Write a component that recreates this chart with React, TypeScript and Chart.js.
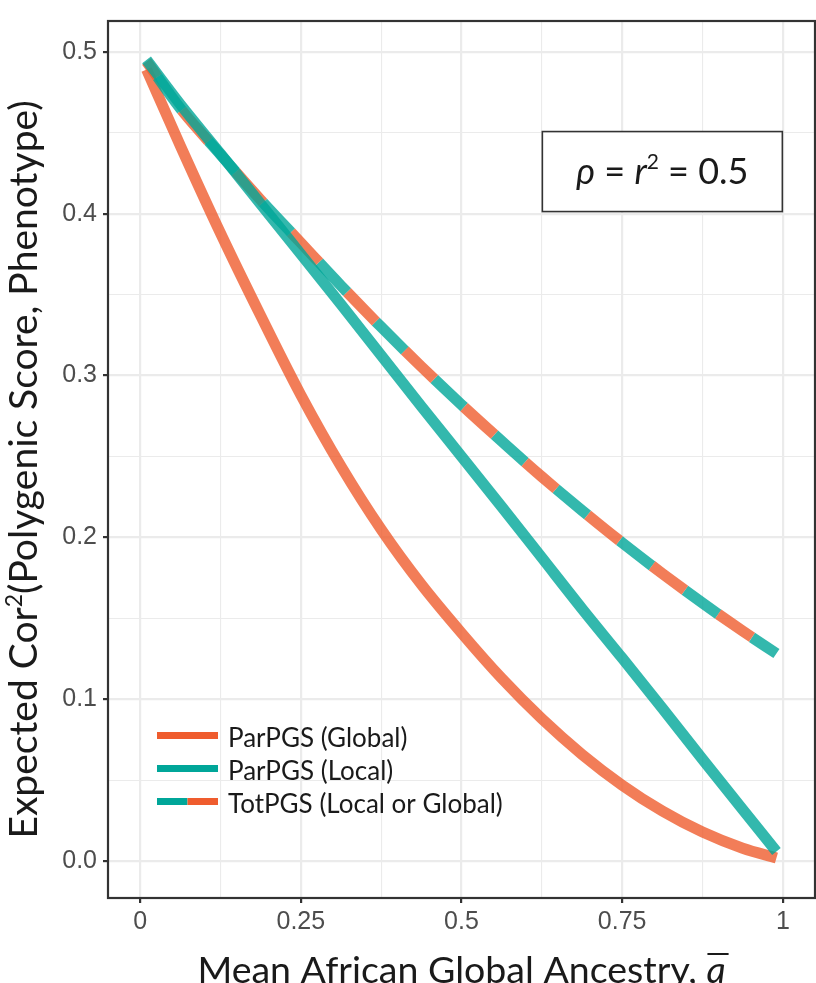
import React, { useEffect, useRef } from "react";
import { Chart, registerables } from "chart.js";

Chart.register(...registerables);

// ---------- data ----------
const ancestry = [0.01, 0.0625, 0.125, 0.1875, 0.25, 0.3125, 0.375, 0.4375, 0.5, 0.5625, 0.625, 0.6875, 0.75, 0.8125, 0.875, 0.9375, 0.99];
const parPgsGlobal = [0.489, 0.442, 0.388, 0.337, 0.288, 0.244, 0.205, 0.171, 0.141, 0.113, 0.088, 0.066, 0.047, 0.031, 0.018, 0.008, 0.002];
const parPgsLocal = [0.495, 0.4675, 0.437, 0.406, 0.375, 0.344, 0.3125, 0.281, 0.25, 0.219, 0.1875, 0.156, 0.1255, 0.0945, 0.063, 0.032, 0.006];
const totPgs = [0.494, 0.465, 0.4365, 0.4085, 0.382, 0.3555, 0.33, 0.3055, 0.282, 0.2595, 0.2375, 0.2167, 0.1967, 0.1777, 0.1595, 0.1422, 0.1283];

const xMajorTicks = [0, 0.25, 0.5, 0.75, 1];
const xMajorLabels = ["0", "0.25", "0.5", "0.75", "1"];
const xMinorTicks = [0.125, 0.375, 0.625, 0.875];
const yMajorTicks = [0, 0.1, 0.2, 0.3, 0.4, 0.5];
const yMajorLabels = ["0.0", "0.1", "0.2", "0.3", "0.4", "0.5"];
const yMinorTicks = [0.05, 0.15, 0.25, 0.35, 0.45];

const legendLabels = ["ParPGS (Global)", "ParPGS (Local)", "TotPGS (Local or Global)"];
const xTitle = "Mean African Global Ancestry, ";
const xTitleSymbol = "a";
const yTitleParts = ["Expected Cor", "2", "(Polygenic Score, Phenotype)"];
const annotationAt = { x: 0.8125, y: 0.426 };

// ---------- styles ----------
const ORANGE = "rgb(239,92,46)";
const ORANGE_A = "rgba(239,92,46,0.8)";
const TEAL = "rgb(0,166,153)";
const TEAL_A = "rgba(0,166,153,0.8)";
const GRID = "#EBEBEB";
const DARK = "#333333";
const TEXT = "#1A1A1A";
const TICK_TEXT = "#4D4D4D";
const SANS = "Lato, 'Noto Sans', sans-serif";
const TICK_FONT = "'Liberation Sans', Arial, sans-serif";
const DASH = 41;
const DASH_SHIFT = 19;

const pts = (ys: number[]) => ancestry.map((x, i) => ({ x, y: ys[i] }));

type Piece = { text: string; font: string; dy?: number };

function measurePieces(ctx: CanvasRenderingContext2D, pieces: Piece[]) {
  return pieces.map((p) => {
    ctx.font = p.font;
    return ctx.measureText(p.text).width;
  });
}

function drawPiecesCentered(ctx: CanvasRenderingContext2D, pieces: Piece[], cx: number, y: number) {
  const widths = measurePieces(ctx, pieces);
  const total = widths.reduce((a, b) => a + b, 0);
  let x = cx - total / 2;
  const starts: number[] = [];
  pieces.forEach((p, i) => {
    ctx.font = p.font;
    starts.push(x);
    ctx.fillText(p.text, x, y + (p.dy || 0));
    x += widths[i];
  });
  return { starts, widths };
}

const overlayPlugin = {
  id: "overlay",
  afterDraw(chart: any) {
    const { ctx, chartArea } = chart;
    const { left, top, right, bottom } = chartArea;
    const xs = chart.scales.x;
    const ys = chart.scales.y;
    ctx.save();

    // panel border
    ctx.strokeStyle = DARK;
    ctx.lineWidth = 2.2;
    ctx.strokeRect(left, top, right - left, bottom - top);

    // annotation label
    const bx = xs.getPixelForValue(annotationAt.x);
    const by = ys.getPixelForValue(annotationAt.y);
    const bw = 240;
    const bh = 80;
    ctx.fillStyle = "#FFFFFF";
    ctx.fillRect(bx - bw / 2, by - bh / 2, bw, bh);
    ctx.strokeStyle = DARK;
    ctx.lineWidth = 1.6;
    ctx.strokeRect(bx - bw / 2, by - bh / 2, bw, bh);
    ctx.fillStyle = TEXT;
    ctx.textAlign = "left";
    ctx.textBaseline = "alphabetic";
    drawPiecesCentered(
      ctx,
      [
        { text: "\u03C1", font: `italic 36px ${SANS}` },
        { text: " = ", font: `36px ${SANS}` },
        { text: "r", font: `italic 36px ${SANS}` },
        { text: "2", font: `21px ${SANS}`, dy: -15 },
        { text: " = 0.5", font: `36px ${SANS}` },
      ],
      bx,
      by + 12.5
    );

    // legend
    const legX = left + 49;
    const legW = 61;
    const rows = [bottom - 162.5, bottom - 129.5, bottom - 96.5];
    ctx.lineWidth = 7;
    ctx.lineCap = "butt";
    const drawSeg = (x0: number, x1: number, y: number, c: string) => {
      ctx.strokeStyle = c;
      ctx.beginPath();
      ctx.moveTo(x0, y);
      ctx.lineTo(x1, y);
      ctx.stroke();
    };
    drawSeg(legX, legX + legW, rows[0], ORANGE);
    drawSeg(legX, legX + legW, rows[1], TEAL);
    drawSeg(legX, legX + legW / 2, rows[2], TEAL);
    drawSeg(legX + legW / 2, legX + legW, rows[2], ORANGE);
    ctx.fillStyle = TEXT;
    ctx.font = `26px ${SANS}`;
    legendLabels.forEach((t, i) => ctx.fillText(t, legX + legW + 10, rows[i] + 11.5));

    // x axis title
    const cx = (left + right) / 2;
    const { starts, widths } = drawPiecesCentered(
      ctx,
      [
        { text: xTitle, font: `37.5px ${SANS}` },
        { text: xTitleSymbol, font: `italic 37.5px ${SANS}` },
      ],
      cx,
      983
    );
    ctx.strokeStyle = TEXT;
    ctx.lineWidth = 2;
    ctx.beginPath();
    ctx.moveTo(starts[1] + 1, 954);
    ctx.lineTo(starts[1] + widths[1] + 3, 954);
    ctx.stroke();

    // y axis title
    ctx.save();
    ctx.translate(37, (top + bottom) / 2 + 10);
    ctx.rotate(-Math.PI / 2);
    drawPiecesCentered(
      ctx,
      [
        { text: yTitleParts[0], font: `39px ${SANS}` },
        { text: yTitleParts[1], font: `23px ${SANS}`, dy: -15 },
        { text: yTitleParts[2], font: `39px ${SANS}` },
      ],
      0,
      0
    );
    ctx.restore();

    ctx.restore();
  },
};

export default function App() {
  const ref = useRef<HTMLCanvasElement | null>(null);

  useEffect(() => {
    if (!ref.current) return;
    const line = (label: string, data: number[], color: string, order: number, extra: any = {}) => ({
      label,
      data: pts(data),
      borderColor: color,
      backgroundColor: color,
      borderWidth: 11,
      pointRadius: 0,
      pointHoverRadius: 0,
      fill: false,
      cubicInterpolationMode: "monotone",
      borderCapStyle: "butt",
      order,
      ...extra,
    });

    const xAll = [...xMajorTicks, ...xMinorTicks].sort((a, b) => a - b);
    const yAll = [...yMajorTicks, ...yMinorTicks].sort((a, b) => a - b);
    const isMajor = (arr: number[], v: number) => arr.some((m) => Math.abs(m - v) < 1e-9);

    const chart = new Chart(ref.current, {
      type: "line",
      data: {
        datasets: [
          line(legendLabels[1], parPgsLocal, TEAL_A, 0),
          line(legendLabels[2], totPgs, ORANGE_A, 1, { borderDash: [DASH, DASH], borderDashOffset: DASH - DASH_SHIFT }),
          line(legendLabels[2], totPgs, TEAL_A, 2, { borderDash: [DASH, DASH], borderDashOffset: 2 * DASH - DASH_SHIFT }),
          line(legendLabels[0], parPgsGlobal, ORANGE_A, 3),
        ] as any,
      },
      options: {
        animation: false,
        responsive: false,
        devicePixelRatio: 1,
        events: [],
        layout: { padding: { top: 17, right: 1, left: 0, bottom: 0 } },
        plugins: { legend: { display: false }, tooltip: { enabled: false }, title: { display: false } },
        scales: {
          x: {
            type: "linear",
            min: -0.05,
            max: 1.05,
            afterBuildTicks: (axis: any) => {
              axis.ticks = xAll.map((v) => ({ value: v }));
            },
            afterFit: (axis: any) => {
              axis.height = 85;
            },
            ticks: {
              autoSkip: false,
              maxRotation: 0,
              padding: 4,
              color: TICK_TEXT,
              font: { family: TICK_FONT, size: 25 },
              callback: (v: any) => {
                const i = xMajorTicks.findIndex((m) => Math.abs(m - v) < 1e-9);
                return i >= 0 ? xMajorLabels[i] : "";
              },
            },
            grid: {
              color: GRID,
              lineWidth: (c: any) => (isMajor(xMajorTicks, c.tick?.value) ? 2.2 : 1.1),
              drawTicks: true,
              tickLength: 5,
              tickWidth: 2.2,
              tickColor: (c: any) => (isMajor(xMajorTicks, c.tick?.value) ? DARK : "rgba(0,0,0,0)"),
            },
            border: { display: false },
          },
          y: {
            type: "linear",
            min: -0.0227,
            max: 0.519,
            afterBuildTicks: (axis: any) => {
              axis.ticks = yAll.map((v) => ({ value: v }));
            },
            afterFit: (axis: any) => {
              axis.width = 108;
            },
            ticks: {
              autoSkip: false,
              padding: 6,
              color: TICK_TEXT,
              font: { family: TICK_FONT, size: 25 },
              callback: (v: any) => {
                const i = yMajorTicks.findIndex((m) => Math.abs(m - v) < 1e-9);
                return i >= 0 ? yMajorLabels[i] : "";
              },
            },
            grid: {
              color: GRID,
              lineWidth: (c: any) => (isMajor(yMajorTicks, c.tick?.value) ? 2.2 : 1.1),
              drawTicks: true,
              tickLength: 5,
              tickWidth: 2.2,
              tickColor: (c: any) => (isMajor(yMajorTicks, c.tick?.value) ? DARK : "rgba(0,0,0,0)"),
            },
            border: { display: false },
          },
        },
      } as any,
      plugins: [overlayPlugin],
    });
    return () => chart.destroy();
  }, []);

  return (
    <div style={{ position: "absolute", left: 0, top: 0, width: 816, height: 983, background: "#FFFFFF" }}>
      <canvas ref={ref} width={816} height={983} style={{ width: 816, height: 983, display: "block" }} />
    </div>
  );
}
